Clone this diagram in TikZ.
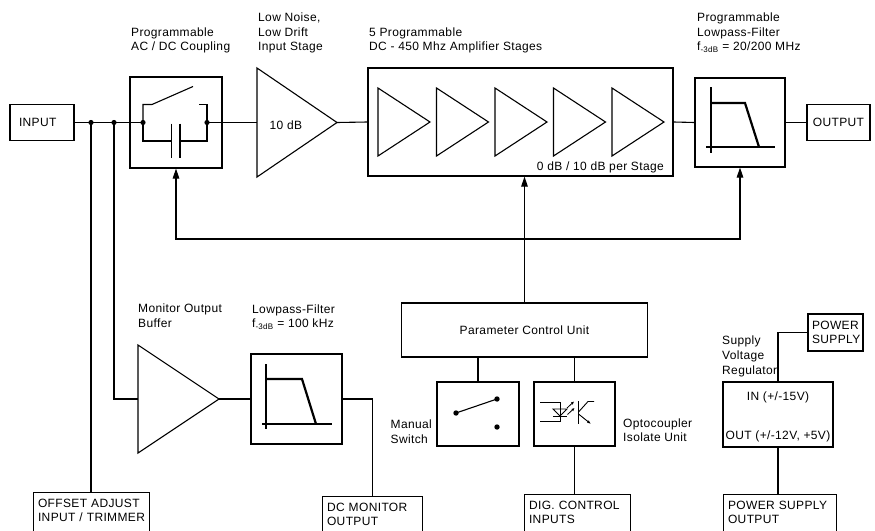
\documentclass[tikz,border=0pt]{standalone}
\usepackage{fontspec}
\setmainfont{Liberation Sans}[LetterSpace=3]
\usetikzlibrary{positioning, calc, arrows.meta}

\begin{document}
\begin{tikzpicture}[x=1pt, y=-1pt, font=\fontsize{12}{14.6}\selectfont,
    sig/.style={line width=1.1pt},
    blk/.style={draw, line width=1.1pt, inner sep=0pt},
    lbl/.style={align=left, inner sep=0pt},
    tag/.style={draw, line width=1.1pt, align=left, anchor=north west,
      inner xsep=4.5pt, inner ysep=5.5pt, text height=9pt, text depth=40pt},
    up/.style={line width=1.1pt, -{Triangle[length=10pt,width=6.5pt]}},
    fb/.style={line width=1.1pt,
      {Triangle[length=10pt,width=6.5pt]}-{Triangle[length=10pt,width=6.5pt]}},
    curve/.style={line width=2.2pt},
  ]
      \useasboundingbox (0,0) rectangle (875,530);
      \clip (0,0) rectangle (875,530);
      % signal path
      \node[blk, text width=46pt, inner xsep=9pt, minimum height=36pt, align=left] (input) at (42,122.5) {INPUT};
      \node[blk, minimum width=92pt, minimum height=91pt] (cpl) at (176,122.5) {};
      \node[blk, minimum width=305pt, minimum height=108pt] (amp) at (520.5,122) {};
      \node[blk, minimum width=90pt, minimum height=89pt] (flt) at (740,122.5) {};
      \node[blk, minimum width=63pt, minimum height=36pt] (output) at (838.5,122.5) {OUTPUT};
      \coordinate (j1) at (91,122.5);
      \coordinate (j2) at (114,122.5);
      \coordinate (lnaIn) at (257,122.5);
      \coordinate (lnaOut) at (337,122.5);
      \draw[sig] (257,68) -- (lnaOut) -- (257,177) -- cycle;
      \draw[sig] (378,88) -- (430,122) -- (378,156) -- cycle;
      \draw[sig] (436.5,88) -- (488.5,122) -- (436.5,156) -- cycle;
      \draw[sig] (495,88) -- (547,122) -- (495,156) -- cycle;
      \draw[sig] (553.5,88) -- (605.5,122) -- (553.5,156) -- cycle;
      \draw[sig] (612,88) -- (664,122) -- (612,156) -- cycle;
      \draw[sig] (input.east) -- (cpl.west);
      \draw[sig] (cpl.east) -- (lnaIn);
      \draw[sig] (lnaOut) -- (amp.west);
      \draw[sig] (amp.east) -- (flt.west);
      \draw[sig] (flt.east) -- (output.west);
      \fill (j1) circle[radius=2.6];
      \fill (j2) circle[radius=2.6];
      % coupling switch and capacitor
      \draw[sig] (cpl.west) -- (143,122.5);
      \draw[sig] (207,122.5) -- (cpl.east);
      \draw[sig] (143,122.5) -- (143,104.5) -- (152,104.5) -- (193,86.5);
      \draw[sig] (207,122.5) -- (207,104.5) -- (198.5,104.5);
      \draw[sig] (143,122.5) -- (143,141) -- (171.5,141);
      \draw[sig] (180,141) -- (207,141) -- (207,122.5);
      \draw[sig] (171.5,123.5) -- (171.5,157.5);
      \draw[sig] (180,123.5) -- (180,157.5);
      \fill (143,122.5) circle[radius=2.6];
      \fill (207,122.5) circle[radius=2.6];
      % lowpass symbol
      \draw[curve] (711,87) -- (711,153);
      \draw[curve] (706,147) -- (775,147);
      \draw[curve] (711,103) -- (745,103) -- (759,147);
      % texts above
      \node[lbl, anchor=base west] (cplTxt) at (131,50.6) {Programmable\\AC / DC Coupling};
      \node[lbl, anchor=base west] (lnaTxt) at (258,50.7) {Low Noise,\\Low Drift\\Input Stage};
      \node[lbl, anchor=base west] (gainTxt) at (269.5,129.5) {10 dB};
      \node[lbl, anchor=base west] (ampTxt) at (369,50.6) {5 Programmable\\DC - 450 Mhz Amplifier Stages};
      \node[lbl, anchor=base east] (stageTxt) at (664,170) {0 dB / 10 dB per Stage};
      \node[lbl, anchor=base west] (fltTxt) at (697,50.7) {Programmable\\Lowpass-Filter\\f\textsubscript{-3dB} = 20/200 MHz};
      % control
      \node[blk, minimum width=246pt, minimum height=54pt] (param) at (524.5,330) {Parameter Control Unit};
      \node[blk, minimum width=82pt, minimum height=64pt] (sw) at (478,414) {};
      \node[blk, minimum width=81pt, minimum height=64pt] (opto) at (574.5,414) {};
      \node[tag, text width=97pt] (dig) at (524,494) {DIG. CONTROL\\INPUTS};
      \coordinate (fbline) at (0,239);
      \draw[fb] (cpl.south) -- (cpl.south |- fbline) -- (flt.south |- fbline) -- (flt.south);
      \draw[up] (param.north) -- (param.north |- amp.south);
      \draw[sig] (sw.north) -- (sw.north |- param.south);
      \draw[sig] (opto.north) -- (opto.north |- param.south);
      \draw[sig] (opto.south) -- (opto.south |- dig.north);
      \draw[sig] (456,413) -- (497,399);
      \fill (456,413) circle[radius=2.7];
      \fill (497,399) circle[radius=2.7];
      \fill (497,427) circle[radius=2.7];
      % optocoupler symbol
      \draw[line width=0.9pt] (540,402) -- (560,402) -- (560,421) -- (540,421);
      \draw[line width=0.9pt] (553,409) -- (567,409) -- (560,416) -- cycle;
      \draw[line width=0.9pt] (553,416) -- (567,416);
      \draw[line width=0.8pt, -{Latex[length=3pt,width=3pt]}] (567,408) -- (574,401.5);
      \draw[line width=0.8pt, -{Latex[length=3pt,width=3pt]}] (567.5,414.5) -- (574.5,408);
      \draw[line width=0.9pt] (578.5,401) -- (578.5,424);
      \draw[line width=0.9pt] (578.5,412) -- (588,401.5) -- (594,401.5);
      \draw[line width=0.9pt, -{Latex[length=4pt,width=3pt]}] (578.5,414) -- (591,424);
      \node[lbl, anchor=base west] (swTxt) at (390.5,443.1) {Manual\\Switch};
      \node[lbl, anchor=base west] (optoTxt) at (623,441.6) {Optocoupler\\Isolate Unit};
      % monitor output
      \node[tag, text width=107pt] (offs) at (33,492) {OFFSET ADJUST\\INPUT / TRIMMER};
      \node[blk, minimum width=91pt, minimum height=90pt] (lpf) at (296.5,399) {};
      \node[tag, text width=91pt] (dcmon) at (322,496) {DC MONITOR\\OUTPUT};
      \coordinate (bufIn) at (138,399);
      \coordinate (bufOut) at (219,399);
      \draw[sig] (138,345) -- (bufOut) -- (138,453) -- cycle;
      \draw[sig] (j1) -- (j1 |- offs.north);
      \draw[sig] (j2) |- (bufIn);
      \draw[sig] (bufOut) -- (lpf.west);
      \draw[sig] (lpf.east) -| (dcmon.north);
      \draw[curve] (266,364) -- (266,429);
      \draw[curve] (262,424) -- (332,424);
      \draw[curve] (266,379) -- (302,379) -- (316,424);
      \node[lbl, anchor=base west] (bufTxt) at (138,327.1) {Monitor Output\\Buffer};
      \node[lbl, anchor=base west] (lpfTxt) at (252,327.6) {Lowpass-Filter\\f\textsubscript{-3dB} = 100 kHz};
      % power supply
      \node[blk, text width=47pt, inner xsep=4pt, minimum height=37pt, align=left] (ps) at (835.5,332.5) {POWER\\SUPPLY};
      \node[blk, minimum width=110pt, minimum height=65pt] (reg) at (778,414.5) {};
      \node[lbl, anchor=base] (inTxt) at (778,400.5) {IN (+/-15V)};
      \node[lbl, anchor=base] (outTxt) at (778,439.5) {OUT (+/-12V, +5V)};
      \node[tag, text width=104pt] (pso) at (723,494) {POWER SUPPLY\\OUTPUT};
      \draw[sig] (ps.west) -| (reg.north);
      \draw[sig] (reg.south) -- (reg.south |- pso.north);
      \node[lbl, anchor=base west, font=\fontsize{12}{15}\selectfont] (regTxt) at (722,374) {Supply\\Voltage\\Regulator};
    \end{tikzpicture}
\end{document}
